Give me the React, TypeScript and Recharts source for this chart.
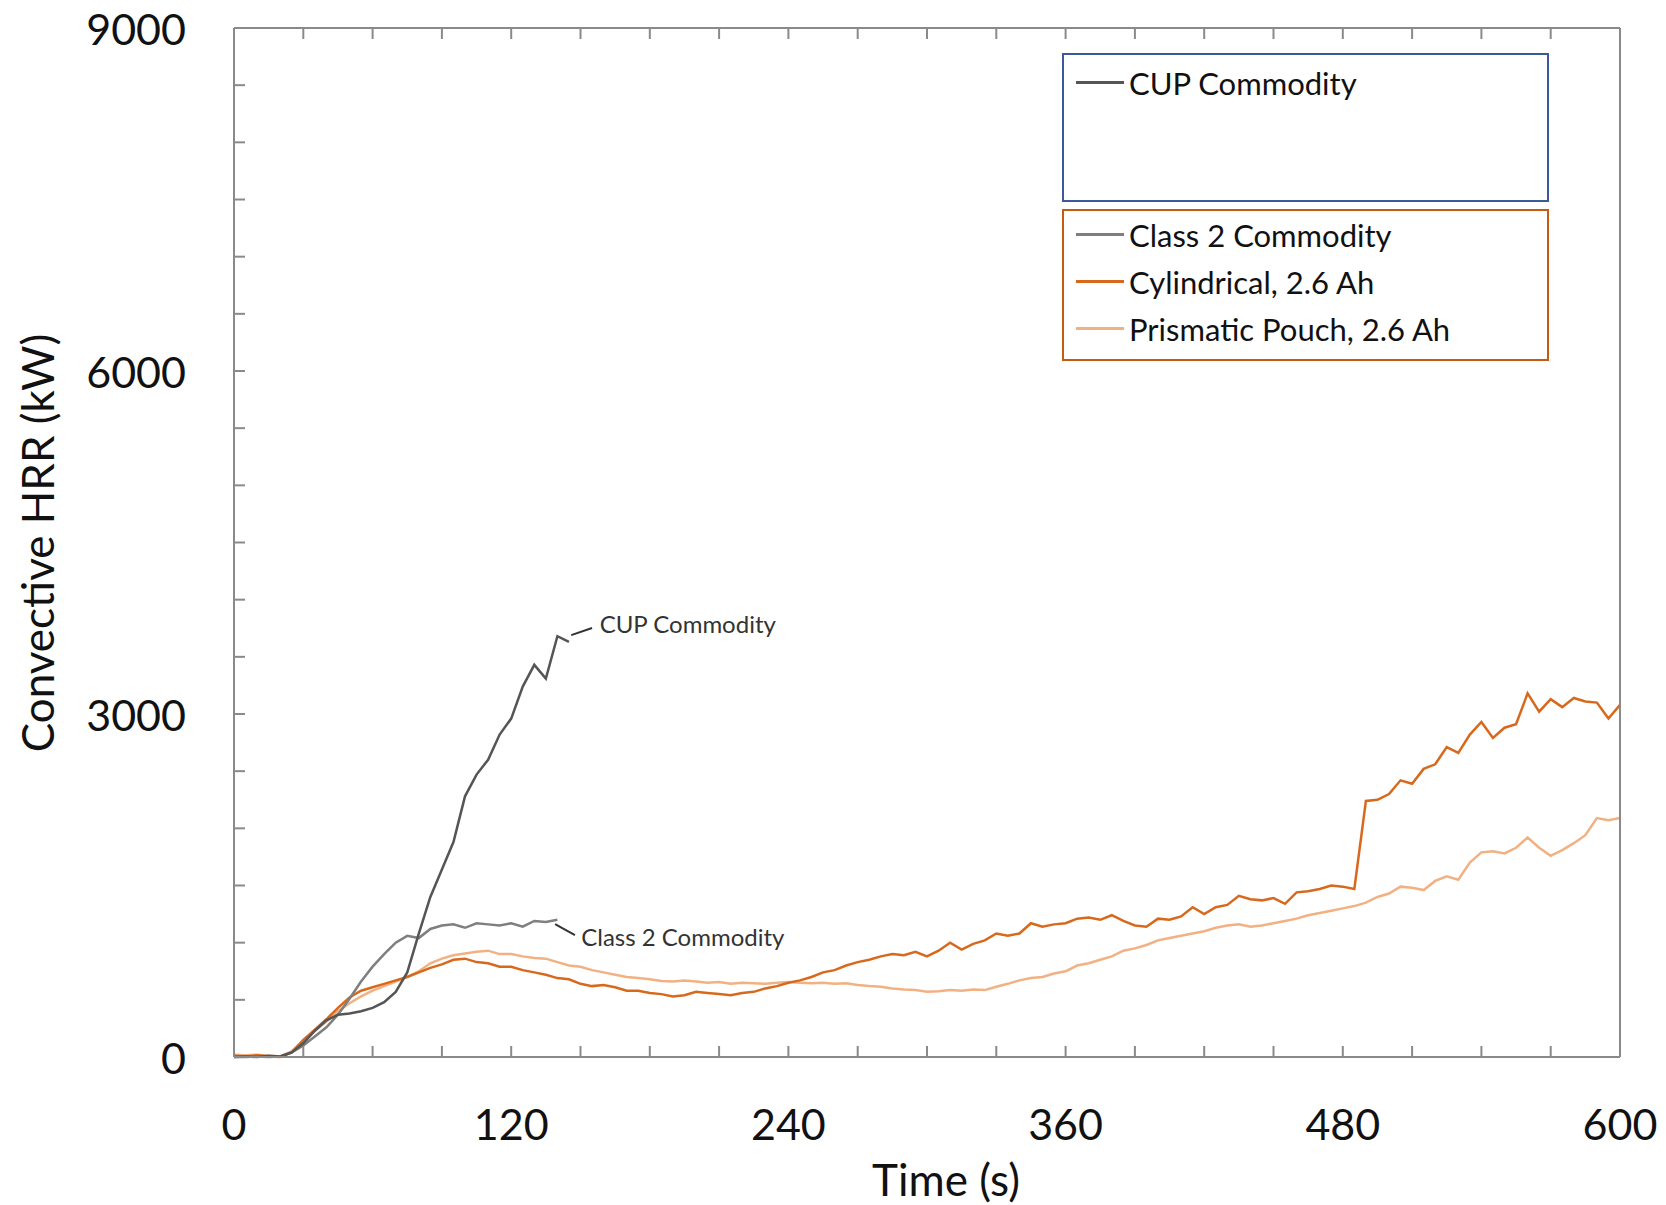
import React from 'react'
import {
  LineChart,
  Line,
  XAxis,
  YAxis,
  ReferenceLine,
  ReferenceDot,
} from 'recharts'

// time grid shared by all series (s)
const TIME_S = [
  0, 5, 10, 15, 20, 25, 30, 35, 40, 45, 50, 55, 60, 65, 70, 75, 80, 85, 90, 95,
  100, 105, 110, 115, 120, 125, 130, 135, 140, 145, 150, 155, 160, 165, 170, 175, 180, 185, 190, 195,
  200, 205, 210, 215, 220, 225, 230, 235, 240, 245, 250, 255, 260, 265, 270, 275, 280, 285, 290, 295,
  300, 305, 310, 315, 320, 325, 330, 335, 340, 345, 350, 355, 360, 365, 370, 375, 380, 385, 390, 395,
  400, 405, 410, 415, 420, 425, 430, 435, 440, 445, 450, 455, 460, 465, 470, 475, 480, 485, 490, 495,
  500, 505, 510, 515, 520, 525, 530, 535, 540, 545, 550, 555, 560, 565, 570, 575, 580, 585, 590, 595,
  600,
]

// convective HRR (kW)
const CUP_HRR = [
  0, 5, 0, 10, 5, 40, 120, 230, 320, 370, 380, 400, 430, 480, 570, 740, 1080, 1400, 1640, 1880,
  2280, 2470, 2600, 2820, 2960, 3240, 3430, 3310, 3680, 3630,
]

const CLASS2_HRR = [
  0, 0, 5, 0, 5, 40, 100, 180, 260, 370, 510, 660, 790, 900, 1000, 1060, 1040, 1120, 1150, 1160,
  1130, 1170, 1160, 1150, 1170, 1140, 1190, 1180, 1200,
]

const CYLINDRICAL_HRR = [
  10, 5, 15, 5, 0, 40, 150, 240, 330, 430, 520, 580, 610, 640, 670, 700, 740, 780, 810, 850,
  860, 830, 820, 790, 790, 760, 740, 720, 690, 680, 640, 620, 630, 610, 580, 580, 560, 550, 530, 540,
  570, 560, 550, 540, 560, 570, 600, 620, 650, 670, 700, 740, 760, 800, 830, 850, 880, 900, 890, 920,
  880, 930, 1000, 940, 990, 1020, 1080, 1060, 1080, 1170, 1140, 1160, 1170, 1210, 1220, 1200, 1240, 1190, 1150, 1140,
  1210, 1200, 1230, 1310, 1250, 1310, 1330, 1410, 1380, 1370, 1390, 1340, 1440, 1450, 1470, 1500, 1490, 1470, 2240, 2250,
  2300, 2420, 2390, 2520, 2560, 2710, 2660, 2820, 2930, 2790, 2880, 2910, 3180, 3020, 3130, 3060, 3140, 3110, 3100, 2960,
  3080,
]

const PRISMATIC_HRR = [
  20, 15, 20, 10, 5, 50, 140, 230, 310, 400, 470, 530, 580, 620, 660, 700, 750, 820, 860, 890,
  905, 920, 930, 900, 900, 880, 865, 860, 830, 800, 790, 760, 740, 720, 700, 690, 680, 665, 660, 670,
  660, 650, 655, 640, 650, 645, 640, 650, 655, 650, 645, 650, 640, 645, 630, 620, 615, 600, 590, 585,
  570, 575, 585, 580, 590, 585, 615, 640, 670, 690, 700, 730, 750, 800, 820, 850, 880, 930, 950, 980,
  1020, 1040, 1060, 1080, 1100, 1130, 1150, 1160, 1140, 1150, 1170, 1190, 1210, 1240, 1260, 1280, 1300, 1320, 1350, 1400,
  1430, 1490, 1480, 1460, 1540, 1580, 1550, 1700, 1790, 1800, 1780, 1830, 1920, 1830, 1760, 1810, 1870, 1940, 2090, 2070,
  2090,
]

const X_TICKS = [0, 30, 60, 90, 120, 150, 180, 210, 240, 270, 300, 330, 360, 390, 420, 450, 480, 510, 540, 570, 600]
const X_LABELS = [0, 120, 240, 360, 480, 600]
const Y_TICKS = [0, 500, 1000, 1500, 2000, 2500, 3000, 3500, 4000, 4500, 5000, 5500, 6000, 6500, 7000, 7500, 8000, 8500, 9000]
const Y_LABELS = [0, 3000, 6000, 9000]

const SERIES = [
  { key: 'cup', name: 'CUP Commodity', color: '#555555', width: 2.5 },
  { key: 'class2', name: 'Class 2 Commodity', color: '#7f7f7f', width: 2.5 },
  { key: 'cyl', name: 'Cylindrical, 2.6 Ah', color: '#d8691c', width: 2.5 },
  { key: 'prism', name: 'Prismatic Pouch, 2.6 Ah', color: '#f2b183', width: 2.5 },
]

const FONT = 'Lato, "Open Sans", sans-serif'
const FRAME = '#8a8a8a'
const TICK_LEN = 11

const data = TIME_S.map((t, i) => ({
  t,
  cup: CUP_HRR[i] ?? null,
  class2: CLASS2_HRR[i] ?? null,
  cyl: CYLINDRICAL_HRR[i] ?? null,
  prism: PRISMATIC_HRR[i] ?? null,
}))

function BottomTick({ x, y, payload }: any) {
  const v = payload.value
  return (
    <g>
      <line x1={x} y1={y} x2={x} y2={y - TICK_LEN} stroke={FRAME} strokeWidth={2} />
      {X_LABELS.includes(v) && (
        <text x={x} y={y + 66} textAnchor="middle" dominantBaseline="central" fontSize={43} fill="#111">
          {v}
        </text>
      )}
    </g>
  )
}

function LeftTick({ x, y, payload }: any) {
  const v = payload.value
  return (
    <g>
      <line x1={x} y1={y} x2={x + TICK_LEN} y2={y} stroke={FRAME} strokeWidth={2} />
      {Y_LABELS.includes(v) && (
        <text x={x - 48} y={y} textAnchor="end" dominantBaseline="central" fontSize={43} fill="#111">
          {v}
        </text>
      )}
    </g>
  )
}

function TopTick({ x, y }: any) {
  return <line x1={x} y1={y} x2={x} y2={y + TICK_LEN} stroke={FRAME} strokeWidth={2} />
}

function RightTick({ x, y }: any) {
  return <line x1={x} y1={y} x2={x - TICK_LEN} y2={y} stroke={FRAME} strokeWidth={2} />
}

function LegendRow({ name, color }: { name: string; color: string }) {
  return (
    <div style={{ display: 'flex', alignItems: 'center', height: 47 }}>
      <div style={{ width: 48, height: 3, background: color, marginRight: 5 }} />
      <span style={{ fontSize: 31, color: '#111', whiteSpace: 'nowrap' }}>{name}</span>
    </div>
  )
}

function ChartLegend() {
  const [cup, ...rest] = SERIES
  return (
    <div style={{ position: 'absolute', left: 1062, top: 53, width: 487 }}>
      <div
        style={{
          boxSizing: 'border-box',
          width: 487,
          height: 149,
          border: '2px solid #3a5a9a',
          padding: '4px 0 0 12px',
          background: '#fff',
        }}
      >
        <LegendRow name={cup.name} color={cup.color} />
      </div>
      <div
        style={{
          boxSizing: 'border-box',
          width: 487,
          height: 152,
          marginTop: 7,
          border: '2px solid #c55a11',
          padding: '0 0 0 12px',
          background: '#fff',
        }}
      >
        {rest.map((s) => (
          <LegendRow key={s.key} name={s.name} color={s.color} />
        ))}
      </div>
    </div>
  )
}

export default function App() {
  const drawOrder = ['prism', 'cyl', 'class2', 'cup']
  return (
    <div style={{ position: 'absolute', left: 0, top: 0, width: 1666, height: 1205, background: '#fff', fontFamily: FONT }}>
      <LineChart width={1666} height={1205} data={data} margin={{ top: 27, right: 45, bottom: 147, left: 233 }}>
        <XAxis
          dataKey="t"
          type="number"
          domain={[0, 600]}
          ticks={X_TICKS}
          interval={0}
          height={1}
          tickSize={0}
          tickMargin={0}
          stroke={FRAME}
          strokeWidth={2}
          tick={<BottomTick />}
        />
        <XAxis
          xAxisId="top"
          orientation="top"
          dataKey="t"
          type="number"
          domain={[0, 600]}
          ticks={X_TICKS}
          interval={0}
          height={1}
          tickSize={0}
          tickMargin={0}
          stroke={FRAME}
          strokeWidth={2}
          tick={<TopTick />}
        />
        <YAxis
          type="number"
          domain={[0, 9000]}
          ticks={Y_TICKS}
          interval={0}
          width={1}
          tickSize={0}
          tickMargin={0}
          stroke={FRAME}
          strokeWidth={2}
          tick={<LeftTick />}
        />
        <YAxis
          yAxisId="right"
          orientation="right"
          type="number"
          domain={[0, 9000]}
          ticks={Y_TICKS}
          interval={0}
          width={1}
          tickSize={0}
          tickMargin={0}
          stroke={FRAME}
          strokeWidth={2}
          tick={<RightTick />}
        />
        {drawOrder.map((k) => {
          const s = SERIES.find((x) => x.key === k)!
          return (
            <Line
              key={s.key}
              type="linear"
              dataKey={s.key}
              name={s.name}
              stroke={s.color}
              strokeWidth={s.width}
              dot={false}
              activeDot={false}
              isAnimationActive={false}
            />
          )
        })}
        <ReferenceLine segment={[{ x: 146, y: 3690 }, { x: 155, y: 3752 }]} stroke="#333" strokeWidth={2} />
        <ReferenceLine segment={[{ x: 139, y: 1163 }, { x: 147.6, y: 1067 }]} stroke="#333" strokeWidth={2} />
        <ReferenceDot
          x={157}
          y={3779}
          r={0}
          stroke="none"
          label={{ value: 'CUP Commodity', position: 'right', offset: 3, fontSize: 24, fill: '#333' }}
        />
        <ReferenceDot
          x={149}
          y={1041}
          r={0}
          stroke="none"
          label={{ value: 'Class 2 Commodity', position: 'right', offset: 3, fontSize: 24, fill: '#333' }}
        />
      </LineChart>
      <ChartLegend />
      <div
        style={{
          position: 'absolute',
          left: 37,
          top: 543,
          transform: 'translate(-50%, -50%) rotate(-90deg)',
          whiteSpace: 'nowrap',
          fontSize: 44,
          color: '#111',
        }}
      >
        Convective HRR (kW)
      </div>
      <div
        style={{
          position: 'absolute',
          left: 946,
          top: 1179,
          transform: 'translate(-50%, -50%)',
          whiteSpace: 'nowrap',
          fontSize: 44,
          color: '#111',
        }}
      >
        Time (s)
      </div>
    </div>
  )
}
